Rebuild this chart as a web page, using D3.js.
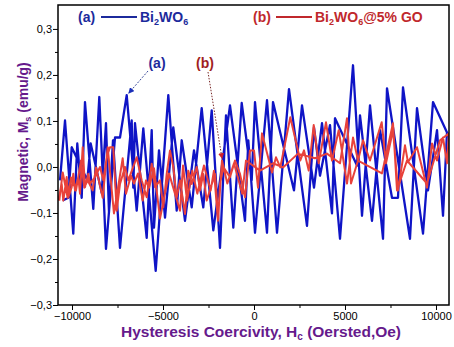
<!DOCTYPE html>
<html>
<head>
<meta charset="utf-8">
<script src="https://cdn.jsdelivr.net/npm/d3@7"></script>
<style>
    body { margin: 0; background: #fff; }
    text { font-family: Arial, "Liberation Sans", sans-serif; }
    .tick text { font-size: 11px; fill: #000; }
</style>
</head>
<body>
<script>
// Bi2WO6: field (Oe) and magnetisation (emu/g), up branch and down branch
const blueUpH = [-10660, -10385, -9930, -9710, -9468, -9287, -8831, -8501, -8133, -7638,
    -7363, -6995, -6446, -6083, -5402, -4709, -4248, -3973, -3423, -2874,
    -2236, -1319, -495, -313, 55, 714, 1264, 1923, 2912, 3297,
    3627, 4176, 4726, 5440, 5935, 6374, 7089, 7308, 8572, 8957,
    9561, 10056, 10386, 10605];
const blueUpM = [-0.029, 0.101, -0.145, 0.051, -0.067, 0.141, -0.091, 0.152, -0.178, 0.064,
    0.064, 0.156, -0.095, 0.084, -0.226, 0.156, -0.095, 0.058, -0.088, 0.128,
    -0.138, 0.134, -0.117, 0.058, -0.143, 0.145, -0.143, 0.169, -0.128, 0.086,
    -0.019, 0.091, -0.156, 0.221, -0.106, 0.134, -0.156, 0.171, -0.156, 0.128,
    -0.051, 0.080, -0.106, 0.075];
const blueDownH = [-10512, -10204, -10017, -9160, -8974, -8369, -8133, -7968, -7748, -7363,
    -6720, -6632, -6539, -5896, -5621, -5495, -5220, -4890, -4435, -3792,
    -3297, -2786, -2324, -1868, -1539, -1137, -676, -126, 55, 714,
    1044, 2198, 2638, 3297, 3737, 4286, 4451, 5660, 5825, 6484,
    6924, 7583, 7913, 8188, 9287, 9836];
const blueDownM = [-0.073, -0.067, 0.043, -0.029, 0.051, -0.056, 0.095, -0.099, 0.058, -0.176,
    0.101, -0.045, 0.095, -0.154, 0.080, -0.132, 0.036, -0.110, 0.086, -0.117,
    0.036, -0.088, 0.123, -0.176, 0.112, -0.132, 0.139, -0.029, 0.141, -0.143,
    0.141, -0.051, 0.134, -0.045, 0.095, -0.101, 0.106, 0.003, 0.112, -0.117,
    0.080, -0.067, -0.067, 0.173, -0.145, 0.141];

// Bi2WO6@5% GO
const redUpH = [-10754, -10567, -10479, -10292, -10204, -10017, -9930, -9836, -9655, -9561,
    -9413, -9287, -9105, -9012, -8737, -8462, -8281, -8094, -7913, -7732,
    -7545, -7363, -7088, -6907, -6446, -6171, -5896, -5621, -5440, -5165,
    -4984, -4797, -4616, -4435, -4248, -4066, -3792, -3610, -3423, -3149,
    -2967, -2786, -2599, -2143, -1962, -1868, -1687, -1319, -1044, -769,
    -495, -220, 0, 220, 440, 989, 1209, 1445, 1995, 2544,
    2748, 3006, 3281, 3555, 3956, 4286, 4654, 5110, 5440, 5715,
    5990, 6374, 7017, 7253, 7638, 7913, 8297, 8462, 8957, 9506,
    9781, 10056, 10386, 10605, 10715];
const redUpM = [-0.073, -0.037, -0.073, -0.022, -0.066, -0.044, -0.015, -0.051, -0.022, -0.058,
    0.043, -0.044, -0.015, -0.037, -0.022, 0.000, -0.029, 0.021, 0.043, 0.043,
    -0.095, -0.037, 0.000, -0.029, 0.021, -0.029, -0.066, 0.007, -0.044, -0.029,
    -0.088, -0.015, 0.036, 0.000, -0.066, -0.029, -0.102, -0.008, -0.037, 0.000,
    -0.051, -0.015, -0.073, -0.015, -0.113, -0.037, 0.000, -0.022, 0.014, -0.015,
    -0.066, 0.036, 0.036, -0.045, 0.073, -0.012, 0.021, -0.001, 0.108, 0.014,
    0.036, -0.008, 0.091, 0.008, 0.097, 0.014, 0.080, -0.036, 0.064, 0.014,
    0.058, 0.014, 0.097, 0.008, 0.080, -0.051, 0.047, 0.010, 0.043, -0.045,
    0.051, 0.014, 0.064, 0.008, 0.073];
const redDownH = [-10700, -10510, -10240, -10055, -9780, -9505, -9325, -9140, -8865, -8680,
    -8315, -8040, -7695, -7215, -7035, -6760, -6595, -6375, -6115, -5935,
    -5770, -5495, -5165, -4670, -4065, -3900, -3680, -3390, -3115, -2750,
    -2380, -2200, -1980, -1760, -1465, -1100, -645, -440, 330, 1044,
    1594, 2418, 3352, 4011, 4726, 5110, 5330, 5715, 7034, 7638,
    7858, 8407, 9506, 10221, 10715];
const redDownM = [-0.073, -0.012, -0.067, -0.023, -0.051, 0.014, -0.045, -0.029, -0.051, -0.001,
    -0.067, 0.043, -0.101, 0.019, -0.058, -0.019, -0.036, -0.014, -0.073, -0.029,
    -0.045, -0.003, -0.112, -0.014, -0.095, 0.003, -0.073, -0.008, -0.058, 0.003,
    -0.051, -0.008, -0.117, 0.014, -0.036, 0.008, -0.058, 0.014, -0.008, 0.008,
    -0.001, 0.029, 0.019, 0.029, 0.008, 0.106, -0.036, 0.014, -0.014, 0.095,
    -0.051, 0.014, -0.036, 0.058, 0.073];

const xMajor = [-10000, -5000, 0, 5000, 10000];
const xMinor = [-7500, -2500, 2500, 7500];
const yMajor = [-0.3, -0.2, -0.1, 0.0, 0.1, 0.2, 0.3];
const yMinor = [-0.25, -0.15, -0.05, 0.05, 0.15, 0.25];

const W = 454, H = 347;
const margin = { top: 5, right: 5, bottom: 42, left: 58 };
const width = W - margin.left - margin.right;
const height = H - margin.top - margin.bottom;

const blue = "#0f14c6";
const red = "#e8423b";
const purple = "#661a8c";

const svg = d3.select("body").append("svg")
    .attr("width", W)
    .attr("height", H);

const g = svg.append("g")
    .attr("transform", "translate(" + margin.left + "," + margin.top + ")");

const x = d3.scaleLinear().domain([-10770, 10715]).range([0, width]);
const y = d3.scaleLinear().domain([-0.3, 0.352]).range([height, 0]);

// join up branch and (reversed) down branch into one loop
function loop(upH, upM, downH, downM) {
    const pts = upH.map((h, i) => [h, upM[i]]);
    for (let i = downH.length - 1; i >= 0; i--) pts.push([downH[i], downM[i]]);
    return pts;
}

const line = d3.line()
    .x(d => x(d[0]))
    .y(d => y(d[1]));

g.append("clipPath").attr("id", "clip")
    .append("rect").attr("width", width).attr("height", height);

const plot = g.append("g").attr("clip-path", "url(#clip)");

plot.append("path")
    .datum(loop(blueUpH, blueUpM, blueDownH, blueDownM))
    .attr("fill", "none")
    .attr("stroke", blue)
    .attr("stroke-width", 2.3)
    .attr("stroke-linejoin", "round")
    .attr("d", line);

plot.append("path")
    .datum(loop(redUpH, redUpM, redDownH, redDownM))
    .attr("fill", "none")
    .attr("stroke", red)
    .attr("stroke-width", 2)
    .attr("stroke-linejoin", "round")
    .attr("d", line);

// axes
const fmtY = d => d3.format(".1f")(d).replace(".", ",").replace("-", "\u2212");
const fmtX = d => String(d).replace("-", "\u2212");

g.append("g")
    .attr("transform", "translate(0," + height + ")")
    .call(d3.axisBottom(x).tickValues(xMinor).tickSize(3).tickFormat(""))
    .call(a => a.select(".domain").remove());
g.append("g")
    .attr("transform", "translate(0," + height + ")")
    .call(d3.axisBottom(x).tickValues(xMajor).tickSize(5).tickPadding(2).tickFormat(fmtX))
    .call(a => a.select(".domain").remove());

g.append("g")
    .call(d3.axisLeft(y).tickValues(yMinor).tickSize(3).tickFormat(""))
    .call(a => a.select(".domain").remove());
g.append("g")
    .call(d3.axisLeft(y).tickValues(yMajor).tickSize(5).tickPadding(1).tickFormat(fmtY))
    .call(a => a.select(".domain").remove());

g.selectAll(".tick line").attr("stroke", "#000").attr("stroke-width", 1);

// frame
g.append("rect")
    .attr("width", width)
    .attr("height", height)
    .attr("fill", "none")
    .attr("stroke", "#000")
    .attr("stroke-width", 1.5);

// axis titles
const xt = svg.append("text")
    .attr("x", 261)
    .attr("y", 337)
    .attr("text-anchor", "middle")
    .attr("font-size", 15.5)
    .attr("font-weight", "bold")
    .attr("fill", purple);
xt.append("tspan").text("Hysteresis Coercivity, H");
xt.append("tspan").attr("font-size", 10).attr("dy", 3).text("c");
xt.append("tspan").attr("dy", -3).text(" (Oersted,Oe)");

const yt = svg.append("text")
    .attr("transform", "translate(28,132) rotate(-90)")
    .attr("text-anchor", "middle")
    .attr("font-size", 14)
    .attr("font-weight", "bold")
    .attr("fill", purple);
yt.append("tspan").text("Magnetic, M");
yt.append("tspan").attr("font-size", 9).attr("dy", 3).text("s");
yt.append("tspan").attr("dy", -3).text(" (emu/g)");

// legend
function legendItem(x0, label, color, rest) {
    const lg = svg.append("g").attr("font-size", 14).attr("font-weight", "bold").attr("fill", color);
    lg.append("text").attr("x", x0).attr("y", 22).text(label);
    lg.append("line")
        .attr("x1", x0 + 23).attr("x2", x0 + 59)
        .attr("y1", 17).attr("y2", 17)
        .attr("stroke", color).attr("stroke-width", 2);
    const t = lg.append("text").attr("x", x0 + 62).attr("y", 22);
    t.append("tspan").text("Bi");
    t.append("tspan").attr("font-size", 9).attr("dy", 3).text("2");
    t.append("tspan").attr("dy", -3).text("WO");
    t.append("tspan").attr("font-size", 9).attr("dy", 3).text("6");
    t.append("tspan").attr("dy", -3).text(rest);
}
legendItem(78, "(a)", "#1c2a9c", "");
legendItem(253, "(b)", "#c0282c", "@5% GO");

// annotations
const defs = svg.append("defs");
function marker(id, color) {
    defs.append("marker")
        .attr("id", id)
        .attr("viewBox", "0 0 10 10")
        .attr("refX", 9).attr("refY", 5)
        .attr("markerWidth", 6).attr("markerHeight", 6)
        .attr("orient", "auto")
        .append("path")
        .attr("d", "M0,0 L10,5 L0,10 z")
        .attr("fill", color);
}
marker("arrA", "#1a2fb8");
marker("arrB", "#d0202a");

svg.append("text")
    .attr("x", 157).attr("y", 68)
    .attr("text-anchor", "middle")
    .attr("font-size", 14).attr("font-weight", "bold")
    .attr("fill", "#1c2a9c")
    .text("(a)");
svg.append("line")
    .attr("x1", 148).attr("y1", 71)
    .attr("x2", x(-6995) + margin.left + 2).attr("y2", y(0.156) + margin.top - 2)
    .attr("stroke", "#3a4a9a").attr("stroke-width", 1)
    .attr("stroke-dasharray", "2,1.5")
    .attr("marker-end", "url(#arrA)");

svg.append("text")
    .attr("x", 205).attr("y", 68)
    .attr("text-anchor", "middle")
    .attr("font-size", 14).attr("font-weight", "bold")
    .attr("fill", "#a01e22")
    .text("(b)");
svg.append("line")
    .attr("x1", 208).attr("y1", 72)
    .attr("x2", 222).attr("y2", y(0.014) + margin.top - 2)
    .attr("stroke", "#7a2a2a").attr("stroke-width", 1)
    .attr("stroke-dasharray", "1.5,1.5")
    .attr("marker-end", "url(#arrB)");
</script>
</body>
</html>
